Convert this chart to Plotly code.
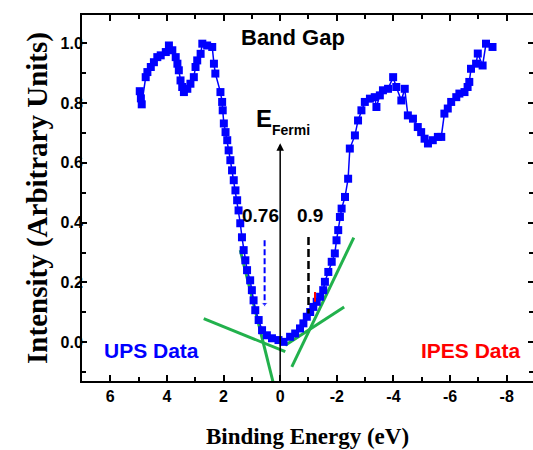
import plotly.graph_objects as go

# ---- data ----
energy = [4.96, 4.92, 4.89, 4.75, 4.69, 4.57, 4.46, 4.34, 4.22, 4.04, 3.93, 3.81, 3.69, 3.63,
          3.58, 3.52, 3.46, 3.40, 3.28, 3.17, 3.05, 2.99, 2.93, 2.81, 2.75, 2.58, 2.40, 2.34,
          2.29, 2.11, 2.05, 2.03, 1.99, 1.93, 1.87, 1.82, 1.76, 1.70, 1.64, 1.58, 1.52, 1.47,
          1.41, 1.35, 1.29, 1.23, 1.17, 1.06, 1.00, 0.94, 0.88, 0.76, 0.64, 0.47, 0.29, 0.06,
          -0.12, -0.35, -0.53, -0.70, -0.82, -0.94, -1.06, -1.17, -1.29, -1.41, -1.52, -1.58,
          -1.70, -1.82, -1.93, -1.99, -2.05, -2.11, -2.17, -2.29, -2.40, -2.46, -2.64, -2.75,
          -2.87, -2.99, -3.17, -3.34, -3.40, -3.52, -3.63, -3.81, -3.99, -4.10, -4.28, -4.40,
          -4.51, -4.69, -4.86, -4.98, -5.10, -5.22, -5.39, -5.57, -5.69, -5.80, -5.92, -6.04,
          -6.22, -6.33, -6.51, -6.62, -6.68, -6.74, -6.92, -6.98, -7.15, -7.27, -7.50]
intensity = [0.840, 0.816, 0.796, 0.887, 0.904, 0.921, 0.937, 0.954, 0.960, 0.971, 0.993, 0.977,
             0.954, 0.932, 0.910, 0.876, 0.854, 0.837, 0.848, 0.865, 0.887, 0.921, 0.943, 0.965,
             0.999, 0.993, 0.988, 0.932, 0.899, 0.837, 0.804, 0.776, 0.732, 0.703, 0.676, 0.642,
             0.609, 0.575, 0.542, 0.508, 0.475, 0.441, 0.398, 0.351, 0.308, 0.274, 0.241, 0.207,
             0.174, 0.140, 0.107, 0.074, 0.040, 0.023, 0.013, 0.007, 0.001, 0.018, 0.029, 0.046,
             0.063, 0.085, 0.101, 0.118, 0.135, 0.152, 0.174, 0.202, 0.235, 0.269, 0.297, 0.341,
             0.375, 0.419, 0.447, 0.486, 0.547, 0.648, 0.692, 0.742, 0.776, 0.804, 0.815, 0.820,
             0.787, 0.826, 0.843, 0.848, 0.887, 0.854, 0.809, 0.848, 0.759, 0.748, 0.720, 0.703,
             0.681, 0.665, 0.676, 0.687, 0.687, 0.765, 0.782, 0.804, 0.820, 0.832, 0.837, 0.854,
             0.871, 0.915, 0.932, 0.966, 0.926, 0.999, 0.988]

# tangent (edge-fit) lines: [x0, x1], [y0, y1]
fit_lines_x = [[1.41, 0.18], [2.70, -0.18], [-0.41, -2.60], [-0.18, -2.26]]
fit_lines_y = [[0.308, -0.161], [0.079, -0.032], [-0.083, 0.350], [-0.010, 0.118]]

# band edge markers
ups_edge_x = [0.55, 0.55]
ups_edge_y = [0.341, 0.128]
ipes_edge_x = [-1.00, -1.00]
ipes_edge_y = [0.352, 0.096]
ipes_red_x = [-1.23, -1.23]
ipes_red_y = [0.135, 0.168]

x_tick_vals = [6, 4, 2, 0, -2, -4, -6, -8]
y_tick_vals = [0.0, 0.2, 0.4, 0.6, 0.8, 1.0]

GREEN = "#22B14C"
BLUE = "#0000FF"
RED = "#FF0000"

fig = go.Figure()

for xs, ys in zip(fit_lines_x, fit_lines_y):
    fig.add_trace(go.Scatter(x=xs, y=ys, mode="lines",
                             line=dict(color=GREEN, width=3),
                             showlegend=False, hoverinfo="skip"))

fig.add_trace(go.Scatter(x=energy, y=intensity, mode="lines+markers",
                         line=dict(color=BLUE, width=1.5),
                         marker=dict(symbol="square", size=8, color=BLUE),
                         showlegend=False))

fig.add_trace(go.Scatter(x=ups_edge_x, y=ups_edge_y, mode="lines+markers",
                         line=dict(color=BLUE, width=2, dash="6px,3px"),
                         marker=dict(symbol="triangle-down", size=[0, 6], color=BLUE),
                         showlegend=False, hoverinfo="skip"))
fig.add_trace(go.Scatter(x=ipes_edge_x, y=ipes_edge_y, mode="lines",
                         line=dict(color="black", width=2.5, dash="8px,4px"),
                         showlegend=False, hoverinfo="skip"))
fig.add_trace(go.Scatter(x=ipes_red_x, y=ipes_red_y, mode="lines",
                         line=dict(color=RED, width=2),
                         showlegend=False, hoverinfo="skip"))

# dummy trace for the right-hand tick axis
fig.add_trace(go.Scatter(x=[None], y=[None], yaxis="y2", showlegend=False, hoverinfo="skip"))

# Fermi level arrow
fig.add_annotation(x=0, y=0.666, ax=0, ay=-0.13, xref="x", yref="y", axref="x", ayref="y",
                   text="", showarrow=True, arrowhead=2, arrowsize=1, arrowwidth=1.5,
                   arrowcolor="black")

def label(x, y, text, size, color="black"):
    fig.add_annotation(x=x, y=y, xref="x", yref="y", text="<b>%s</b>" % text, showarrow=False,
                       font=dict(family="Liberation Sans, Arial", size=size, color=color))

label(-0.46, 1.02, "Band Gap", 22)
label(0.565, 0.748, "E", 24)
label(-0.39, 0.71, "Fermi", 14)
label(0.706, 0.423, "0.76", 19)
label(-1.06, 0.423, "0.9", 19)
label(4.55, -0.027, "UPS Data", 21, BLUE)
label(-6.74, -0.027, "IPES Data", 21, RED)

tickfont = dict(family="Liberation Sans, Arial", size=16, color="black", weight="bold")

fig.update_layout(
    width=533, height=450,
    margin=dict(l=82, r=0, t=15, b=69),
    paper_bgcolor="white", plot_bgcolor="white",
    xaxis=dict(range=[7, -8.93], tickvals=x_tick_vals, ticktext=[str(v) for v in x_tick_vals],
               ticks="inside", ticklen=6, tickwidth=2, tickcolor="black",
               minor=dict(dtick=1, tick0=0, ticks="inside", ticklen=4, tickwidth=1.5, tickcolor="black"),
               showline=True, linewidth=2, linecolor="black", mirror="ticks",
               showgrid=False, zeroline=False, tickfont=tickfont, automargin=False,
               title=dict(text="<b>Binding Energy (eV)</b>",
                          font=dict(family="Liberation Serif, Times New Roman", size=23, color="black"),
                          standoff=24)),
    yaxis=dict(range=[-0.13, 1.095], tickvals=y_tick_vals, ticktext=["%.1f" % v for v in y_tick_vals],
               ticks="inside", ticklen=5, tickwidth=2, tickcolor="black", ticklabelstandoff=-6,
               minor=dict(dtick=0.1, tick0=0, ticks="inside", ticklen=4, tickwidth=1.5, tickcolor="black"),
               showline=True, linewidth=2, linecolor="black", mirror=False,
               showgrid=False, zeroline=False, tickfont=tickfont, automargin=False,
               title=dict(text="<b>Intensity (Arbitrary Units)</b>",
                          font=dict(family="Liberation Serif, Times New Roman", size=29, color="black"),
                          standoff=4)),
    yaxis2=dict(range=[-0.13, 1.095], overlaying="y", side="right", anchor="x",
                tickvals=y_tick_vals, showticklabels=False, automargin=False,
                ticks="inside", ticklen=5, tickwidth=2, tickcolor="black",
                minor=dict(dtick=0.1, tick0=0, ticks="inside", ticklen=4, tickwidth=1.5, tickcolor="black"),
                showline=False, showgrid=False, zeroline=False),
)

fig.write_html("out.html", config={"displayModeBar": False},
               post_script="document.body.style.margin='0';")
